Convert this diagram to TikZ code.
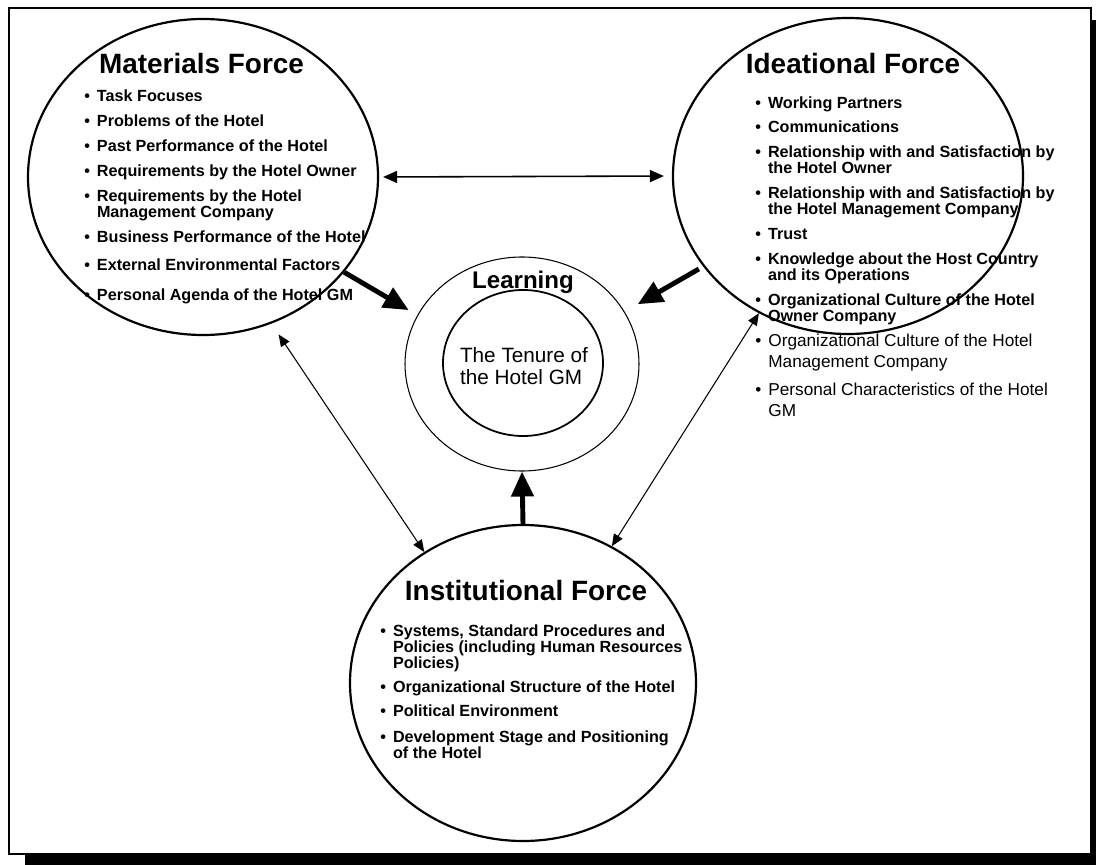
\documentclass[tikz,border=0pt]{standalone}
\usepackage{fontspec}
\setmainfont{Liberation Sans}
\usetikzlibrary{shapes.geometric, arrows.meta, positioning}
\tikzset{
  % ellisse di una forza
  force/.style={draw, ellipse, line width=1.25pt, minimum width=7cm,
    minimum height=6.32cm, inner sep=0pt},
  % titoli
  ftitle/.style={anchor=base, font=\bfseries\fontsize{15.9}{18}\selectfont},
  % voci degli elenchi
  itm/.style={anchor=west, inner sep=0pt, font=\bfseries\fontsize{9.2}{8.5}\selectfont},
  itmlight/.style={itm, font=\fontsize{9.8}{11.4}\selectfont},
  % frecce
  thinarr/.style={{Triangle[length=0.24cm,width=0.2cm]}-{Triangle[length=0.24cm,width=0.2cm]},
    line width=0.6pt},
  wide arr/.style={{Triangle[length=0.28cm,width=0.24cm]}-{Triangle[length=0.28cm,width=0.24cm]},
    line width=0.9pt},
  thickarr/.style={-{Triangle[length=0.5cm,width=0.44cm]}, line width=2.8pt},
}
% voce con pallino
\newcommand{\blt}[1]{\begin{tabular}{@{}l@{\hspace{0.14cm}}l@{}}\textbullet & #1\end{tabular}}

\begin{document}
\begin{tikzpicture}
  \useasboundingbox (0,0) rectangle (21.92,-17.3);
  % cornice con ombra
  \fill (0.5,-0.4) rectangle (22.2,-17.6);
  \draw[line width=1.1pt, fill=white] (0.18,-0.16) rectangle (21.82,-17.08);

  % le tre forze
  \node[force] (mat) at (4.06,-3.54) {};
  \node[force] (idea) at (16.96,-3.52) {};
  \node[force, minimum width=6.92cm] (inst) at (10.46,-13.66) {};
  \node[ftitle] (mattitle) at (4.03,-1.48) {Materials Force};
  \node[ftitle] (ideatitle) at (17.06,-1.48) {Ideational Force};
  \node[ftitle] (insttitle) at (10.52,-12.0) {Institutional Force};

  % apprendimento al centro
  \node[draw, ellipse, line width=0.6pt, minimum width=4.68cm, minimum height=4.28cm,
    inner sep=0pt] (learn) at (10.44,-7.28) {};
  \node[draw, ellipse, line width=1pt, minimum width=3.2cm, minimum height=2.92cm,
    inner sep=0pt] (tenure) at (10.46,-7.26) {};
  \node[anchor=base, font=\bfseries\fontsize{13.7}{16}\selectfont] (learntitle)
    at (10.46,-5.78) {Learning};
  \node[align=left, inner sep=0pt, font=\fontsize{11.8}{12.5}\selectfont] (tenuretxt)
    at (10.48,-7.32) {The Tenure of\\the Hotel GM};

  % elenchi
  \foreach \y/\t [count=\i] in {-1.96/Task Focuses, -2.46/Problems of the Hotel,
      -2.96/Past Performance of the Hotel, -3.46/Requirements by the Hotel Owner,
      -4.12/Requirements by the Hotel\\&Management Company,
      -4.78/Business Performance of the Hotel, -5.34/External Environmental Factors,
      -5.93/Personal Agenda of the Hotel GM}
    \node[itm] (m\i) at (1.68,\y) {\blt{\t}};
  \foreach \y/\t [count=\i] in {-2.1/Working Partners, -2.58/Communications,
      -3.24/Relationship with and Satisfaction by\\&the Hotel Owner,
      -4.06/Relationship with and Satisfaction by\\&the Hotel Management Company,
      -4.72/Trust, -5.37/Knowledge about the Host Country\\&and its Operations,
      -6.19/Organizational Culture of the Hotel\\&Owner Company}
    \node[itm] (d\i) at (15.1,\y) {\blt{\t}};
  \node[itmlight] (d8) at (15.1,-7.06) {\blt{Organizational Culture of the Hotel\\&Management Company}};
  \node[itmlight] (d9) at (15.1,-8.04) {\blt{Personal Characteristics of the Hotel\\&GM}};
  \foreach \y/\t [count=\i] in {-12.98/{Systems, Standard Procedures and\\&Policies (including Human Resources\\&Policies)},
      -13.78/Organizational Structure of the Hotel, -14.26/Political Environment,
      -14.93/Development Stage and Positioning\\&of the Hotel}
    \node[itm] (s\i) at (7.6,\y) {\blt{\t}};

  % collegamenti
  \draw[wide arr, shorten <=0.08cm, shorten >=0.16cm] (mat.east) -- (idea.west);
  \draw[thinarr, shorten <=0.26cm] (mat.-65.5) -- (inst.127);
  \draw[thinarr] (idea.-123.6) -- (inst.57.6);
  \draw[thickarr, shorten >=0.2cm] (mat.-34) -- (learn.155.7);
  \draw[thickarr, shorten <=0.1cm, shorten >=0.3cm] (idea.-148.1) -- (learn.27.3);
  \draw[thickarr] (inst.north) -- (learn.south);
\end{tikzpicture}
\end{document}
